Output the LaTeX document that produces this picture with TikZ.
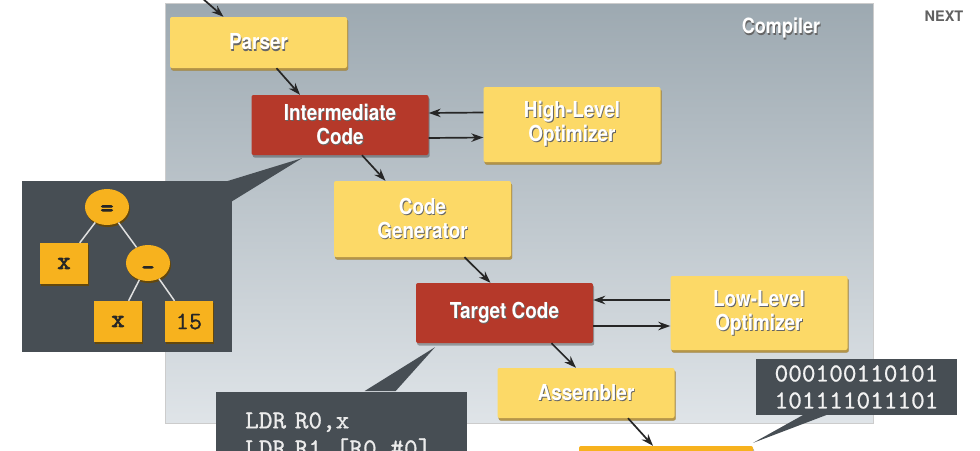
\documentclass[tikz,border=0pt]{standalone}
\usepackage{fontspec}
\setsansfont{TeX Gyre Heros}
\newfontfamily\boxfont[FakeStretch=0.86]{TeX Gyre Heros}
\newfontfamily\codefont[Extension=.otf, FakeBold=0.8]{lmmono10-regular}
\newfontfamily\heavycode[Extension=.otf, FakeBold=3]{lmmono10-regular}
\usetikzlibrary{arrows.meta,shadows,shapes.geometric}
\definecolor{panelTop}{HTML}{9DA9B1}
\definecolor{panelBot}{HTML}{DFE4E8}
\definecolor{stepYellow}{HTML}{FCD967}
\definecolor{stepEdge}{HTML}{B89540}
\definecolor{codeRed}{HTML}{B5392A}
\definecolor{treeOrange}{HTML}{F7B21E}
\definecolor{calloutGray}{HTML}{474E54}
\newcommand{\shtxt}[1]{\leavevmode\rlap{\hspace{0.9pt}\raisebox{-1.2pt}{\textcolor{black!60}{#1}}}#1}
\tikzstyle{phase}=[rectangle, rounded corners=2pt, minimum width=177pt, inner sep=0pt, align=center, text=white, font=\boxfont\bfseries\fontsize{22}{24}\selectfont, drop shadow={shadow xshift=1.2pt, shadow yshift=-2.5pt, fill=black, opacity=0.3}]
\tikzstyle{yellowphase}=[phase, fill=stepYellow, drop shadow={shadow xshift=1.2pt, shadow yshift=-2.5pt, fill=stepEdge, opacity=0.9}]
\tikzstyle{redphase}=[phase, fill=codeRed]
\tikzstyle{flow}=[draw, line width=1.7pt, black!85, -{Stealth[length=12pt,width=8.5pt]}]
\tikzstyle{callout}=[fill=calloutGray]
\tikzstyle{treenode}=[fill=treeOrange, drop shadow={shadow xshift=1pt, shadow yshift=-2pt, fill=black!60!treeOrange, opacity=1}, text=black!85]
\tikzstyle{treeop}=[treenode, ellipse, minimum width=44pt, minimum height=36pt, inner sep=0pt, text height=14pt, text depth=0pt, font=\heavycode\fontsize{25}{25}\selectfont]
\tikzstyle{treeleaf}=[treenode, rectangle, minimum width=48pt, minimum height=41pt, inner sep=0pt, font=\codefont\fontsize{25}{25}\selectfont]
\tikzstyle{treeedge}=[draw, line width=1.5pt, black!12]
\begin{document}
\begin{tikzpicture}[x=1pt, y=-1pt]
    \useasboundingbox (0,0) rectangle (980,450);
    \clip (0,0) rectangle (980,450);
    \fill[white] (0,0) rectangle (980,450);
    % First we draw the compiler panel
    \shade[top color=panelTop, bottom color=panelBot, draw=black!20] (165,3) rectangle (873,423);
    \node[font=\boxfont\bfseries\fontsize{21}{21}\selectfont, text=white] (title) at (781,29) {\shtxt{Compiler}};
    \node[font=\sffamily\bfseries\fontsize{14.5}{15}\selectfont, text=black!62] (next) at (944,16) {NEXT};

    % Then the phases
    \foreach \pos/\name/\hgt/\txt in {{(258.5,42.5)/parser/51/\shtxt{Parser}},
        {(572,124.5)/hlopt/75/\shtxt{High-Level}\\\shtxt{Optimizer}},
        {(422.5,219)/codegen/76/\shtxt{Code}\\\shtxt{Generator}},
        {(759,313)/llopt/74/\shtxt{Low-Level}\\\shtxt{Optimizer}},
        {(586,393)/assem/50/\shtxt{Assembler}}}
        \node[yellowphase, minimum height=\hgt pt] (\name) at \pos {\txt};

    \foreach \pos/\name/\txt in {{(340,125)/inter/\shtxt{Intermediate}\\\shtxt{Code}},
        {(504.5,313)/target/\shtxt{Target Code}}}
        \node[redphase, minimum height=60pt] (\name) at \pos {\txt};

    \node[phase, fill=treeOrange, minimum width=174pt, minimum height=40pt] (machine) at (666,466) {};

    % Connect the phases
    \coordinate (src) at (202,-2);
    \draw[flow] (src) -- ([xshift=-35pt]parser.north);
    \draw[flow] ([xshift=18pt]parser.south) -- ([xshift=-40pt]inter.north);
    \draw[flow] ([yshift=12pt]hlopt.west) -- ([yshift=12pt]inter.east);
    \draw[flow] ([yshift=-13pt]inter.east) -- ([yshift=-13pt]hlopt.west);
    \draw[flow] ([xshift=22pt]inter.south) -- ([xshift=-37pt]codegen.north);
    \draw[flow] ([xshift=42pt]codegen.south) -- ([xshift=-14pt]target.north);
    \draw[flow] ([yshift=13pt]llopt.west) -- ([yshift=13pt]target.east);
    \draw[flow] ([yshift=-13pt]target.east) -- ([yshift=-13pt]llopt.west);
    \draw[flow] ([xshift=47pt]target.south) -- ([xshift=-10pt]assem.north);
    \draw[flow] ([xshift=42pt]assem.south) -- ([xshift=-13pt]machine.north);

    % Syntax tree callout
    \node[callout, anchor=north west, minimum width=210pt, minimum height=171pt, inner sep=0pt] (treebox) at (22,181) {};
    \fill[callout] ([xshift=-8pt,yshift=-1pt]treebox.north east) -- ([xshift=-38pt,yshift=-3pt]inter.south) -- ([xshift=-8pt,yshift=-25pt]treebox.north east) -- cycle;
    \node[treeop] (eq) at (107,207) {\raisebox{-2pt}{=}};
    \node[treeop] (minus) at (148,263) {\raisebox{-5pt}{-}};
    \node[treeleaf] (x1) at (64,263.5) {\heavycode x};
    \node[treeleaf] (x2) at (118,321.5) {\heavycode x};
    \node[treeleaf] (n15) at (189,321.5) {15};
    \foreach \source/\dest in {eq/x1, eq/minus, minus/x2, minus/n15}
        \path[treeedge] (\source) -- (\dest);

    % Assembly and binary callouts
    \node[callout, anchor=north west, text width=193pt, inner xsep=29pt, inner ysep=20pt, align=left, text=black!8, font=\codefont\fontsize{26}{28}\selectfont] (codebox) at (216,392) {LDR R0,x\\LDR R1,[R0,\#0]};
    \fill[callout] ([xshift=23pt,yshift=1pt]codebox.north) -- ([xshift=-69.5pt,yshift=-4pt]target.south) -- ([xshift=54pt,yshift=1pt]codebox.north) -- cycle;

    \node[callout, minimum width=201pt, minimum height=56pt, inner sep=0pt, align=center, text=black!5, font=\codefont\fontsize{26}{27}\selectfont] (binbox) at (856.5,387) {000100110101\\101111011101};
    \fill[callout] ([xshift=-52pt,yshift=1pt]binbox.south) -- ([yshift=3pt]machine.north east) -- ([xshift=-28pt,yshift=1pt]binbox.south) -- cycle;
\end{tikzpicture}
\end{document}
